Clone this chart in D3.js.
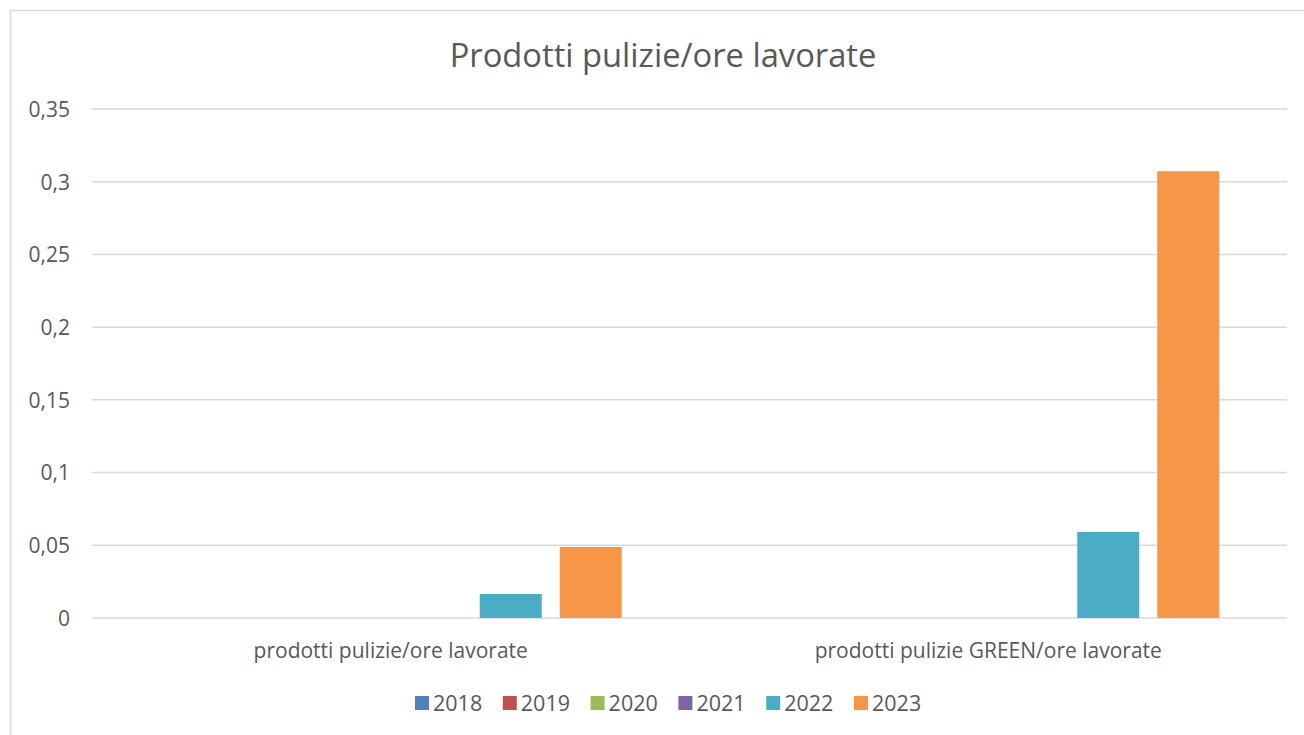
<!DOCTYPE html>
<html>
<head>
<meta charset="utf-8">
<script src="https://cdn.jsdelivr.net/npm/d3@7"></script>
<style>
  html, body { margin: 0; padding: 0; background: #fff; }
  svg { display: block; font-family: "Open Sans", sans-serif; }
  .y-axis text { fill: #595959; }
</style>
</head>
<body>
<svg id="chart" width="1304" height="735"></svg>
<script>
// categories and series
const categories = ["prodotti pulizie/ore lavorate", "prodotti pulizie GREEN/ore lavorate"];
const years = ["2018", "2019", "2020", "2021", "2022", "2023"];
const colors = ["#4f81bd", "#c0504d", "#9bbb59", "#8064a2", "#4bacc6", "#f79646"];
const values2018 = [0, 0];
const values2019 = [0, 0];
const values2020 = [0, 0];
const values2021 = [0, 0];
const values2022 = [0.0165, 0.0592];
const values2023 = [0.0488, 0.3072];
const yTicks = [0, 0.05, 0.1, 0.15, 0.2, 0.25, 0.3, 0.35];

const seriesValues = [values2018, values2019, values2020, values2021, values2022, values2023];

const width = 1304, height = 735;
const marginLeft = 92, marginRight = 17, plotTop = 109, plotBottom = 618;

const svg = d3.select("#chart");

// outer chart border (right / bottom edges fall outside the picture)
svg.append("rect")
    .attr("x", 10.5).attr("y", 10.5)
    .attr("width", 1400).attr("height", 800)
    .attr("fill", "none")
    .attr("stroke", "#d9d9d9")
    .attr("stroke-width", 1.5);

svg.append("text")
    .attr("x", 663).attr("y", 67)
    .attr("text-anchor", "middle")
    .attr("font-size", 32.7)
    .attr("fill", "#595959")
    .text("Prodotti pulizie/ore lavorate");

const y = d3.scaleLinear().domain([0, 0.35]).range([plotBottom, plotTop]);
const x0 = d3.scaleBand().domain(categories).range([marginLeft, width - marginRight]);

// gridlines
svg.append("g")
    .selectAll("line")
    .data(yTicks)
    .join("line")
    .attr("x1", marginLeft).attr("x2", width - marginRight)
    .attr("y1", d => y(d)).attr("y2", d => y(d))
    .attr("stroke", "#d9d9d9")
    .attr("stroke-width", 1.5);

// y labels
const fmt = d => String(+d.toFixed(2)).replace(".", ",");
svg.append("g")
    .attr("class", "y-axis")
    .attr("transform", `translate(${marginLeft - 22},0)`)
    .call(d3.axisLeft(y).tickValues(yTicks).tickFormat(fmt).tickSize(0).tickPadding(0))
    .call(g => g.select(".domain").remove())
    .selectAll("text")
    .attr("font-size", 21)
    .attr("font-family", "Open Sans, sans-serif")
    .attr("dy", "0.35em");

// bars: 62px wide with 18px spacing inside a category
const slot = 80, barW = 62;
const groupW = years.length * slot - (slot - barW);
const x1 = i => -groupW / 2 + i * slot;

years.forEach((yr, i) => {
    svg.append("g")
        .selectAll("rect")
        .data(seriesValues[i].map((v, j) => ({ cat: categories[j], v })))
        .join("rect")
        .attr("x", d => x0(d.cat) + x0.bandwidth() / 2 + x1(i))
        .attr("y", d => y(d.v))
        .attr("width", barW)
        .attr("height", d => y(0) - y(d.v))
        .attr("fill", colors[i]);
});

// category labels
svg.append("g")
    .selectAll("text")
    .data(categories)
    .join("text")
    .attr("x", d => x0(d) + x0.bandwidth() / 2)
    .attr("y", 658)
    .attr("text-anchor", "middle")
    .attr("font-size", 21)
    .attr("fill", "#595959")
    .text(d => d);

// legend
const legend = svg.append("g").attr("transform", "translate(415,703)");
const legendStep = 87.8;
const items = legend.selectAll("g")
    .data(years)
    .join("g")
    .attr("transform", (d, i) => `translate(${i * legendStep},0)`);
items.append("rect")
    .attr("x", 0).attr("y", -7)
    .attr("width", 14).attr("height", 14)
    .attr("fill", (d, i) => colors[i]);
items.append("text")
    .attr("x", 18).attr("y", 0)
    .attr("dy", "0.35em")
    .attr("font-size", 21.5)
    .attr("fill", "#595959")
    .text(d => d);
</script>
</body>
</html>
